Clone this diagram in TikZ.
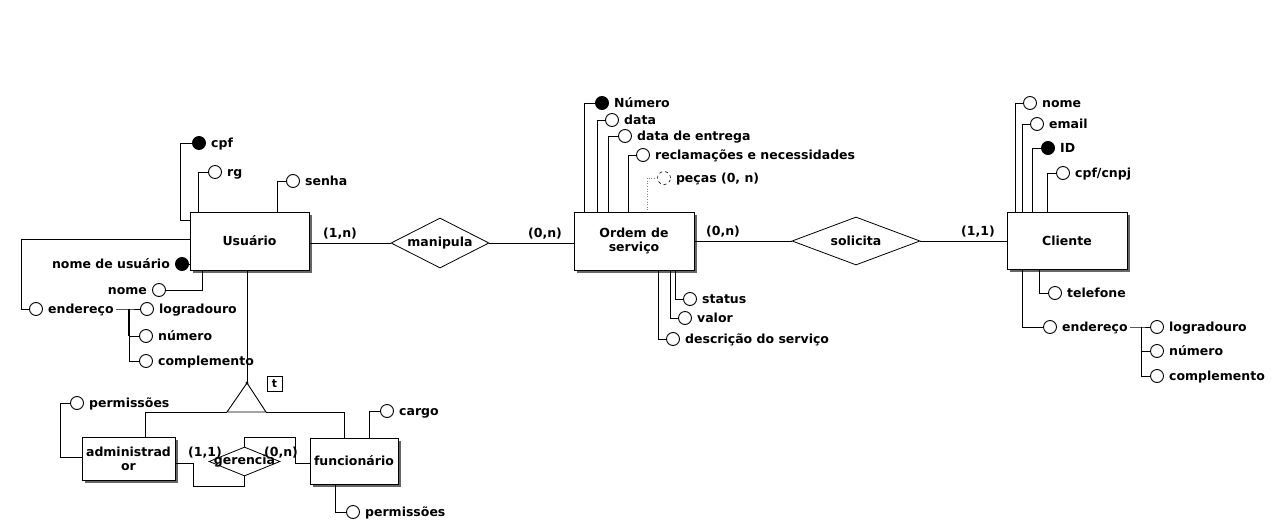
\documentclass[tikz,border=0pt]{standalone}
\usepackage{fontspec}
\setmainfont{DejaVu Sans}
\usetikzlibrary{shapes.geometric,shadows}
\newcommand\attr[6]{\node[#6, label={[lbl,name=#1-t]#5:{#4}}] (#1) at (#2,#3) {};}
\begin{document}
\begin{tikzpicture}[x=1pt,y=-1pt,
  every node/.style={font=\fontsize{12.5}{14}\selectfont\bfseries},
  conn/.style={line width=0.9pt},
  ent/.style={draw, line width=1pt, fill=white, inner sep=0, align=center,
    drop shadow={shadow xshift=2.5pt, shadow yshift=-2.5pt, fill=black!60, opacity=1}},
  rel/.style={draw, diamond, line width=0.8pt, fill=white, inner sep=0},
  att/.style={draw, circle, line width=0.9pt, fill=white, minimum size=13pt, inner sep=0},
  idc/.style={att, fill=black},
  multi/.style={att, dashed, line width=0.6pt},
  lbl/.style={inner sep=0, text height=8.8pt, text depth=0pt},
  label distance=5pt,
  card/.style={inner sep=0},
]
\useasboundingbox (0,0) rectangle (1272,522);

% ---------- entities ----------
\node[ent, minimum width=119pt, minimum height=58pt] (usuario) at (249.5,241) {Usuário};
\node[ent, minimum width=120pt, minimum height=58pt] (ordem) at (634,241) {Ordem de\\serviço};
\node[ent, minimum width=120pt, minimum height=57pt] (cliente) at (1067,240.5) {Cliente};
\node[ent, minimum width=93pt, minimum height=43pt] (admin) at (128.5,458.5) {administrad\\or};
\node[ent, minimum width=88pt, minimum height=46pt] (func) at (354,461) {funcionário};

% ---------- relationships ----------
\node[rel, minimum width=98pt, minimum height=50pt] (manipula) at (440,243) {};
\node at (manipula) {manipula};
\node[rel, minimum width=128pt, minimum height=48pt] (solicita) at (856,241) {};
\node at (solicita) {solicita};

% ---------- relationship connectors ----------
\draw[conn] (usuario.east |- manipula) -- (manipula.west);
\draw[conn] (manipula.east) -- (ordem.west |- manipula);
\draw[conn] (ordem.east |- solicita) -- (solicita.west);
\draw[conn] (solicita.east) -- (cliente.west |- solicita);
\node[card] (c1) at (340,234) {(1,n)};
\node[card] (c2) at (545,234) {(0,n)};
\node[card] (c3) at (723,232) {(0,n)};
\node[card] (c4) at (978,232) {(1,1)};

% ---------- Usuario attributes ----------
\attr{cpf}{199}{143}{cpf}{right}{idc}
\attr{rg}{215}{172}{rg}{right}{att}
\attr{senha}{293}{181}{senha}{right}{att}
\attr{nusu}{182}{264}{nome de usuário}{left}{idc, label distance=0pt}
\attr{nomeu}{159}{290}{nome}{left}{att, label distance=0pt}
\attr{endu}{36}{309}{endereço}{right}{att}
\attr{logu}{147}{309}{logradouro}{right}{att}
\attr{numu}{146}{336}{número}{right}{att}
\attr{compu}{146}{361}{complemento}{right}{att}

\coordinate (u-cpf) at (190,220);
\coordinate (u-rg) at (198,212);
\coordinate (u-senha) at (277,212);
\coordinate (u-nusu) at (190,264);
\coordinate (u-nome) at (202,270);
\coordinate (u-end) at (190,239);
\coordinate (u-bar) at (129,309);

\draw[conn] (cpf.west) -- ++(-12,0) |- (u-cpf);
\draw[conn] (rg.west) -| (u-rg);
\draw[conn] (senha.west) -| (u-senha);
\draw[conn] (nusu.east) -- (u-nusu);
\draw[conn] (nomeu.east) -| (u-nome);
\draw[conn] (endu.west) -- ++(-7.5,0) |- (u-end);
\draw[conn] (endu-t.east) ++(2,0) -- (u-bar) -- (logu.west);
\draw[line width=1.6pt] (u-bar) -- ++(0,27);
\draw[conn] (u-bar) |- (numu.west);
\draw[conn] (u-bar) |- (compu.west);

% ---------- specialization ----------
\coordinate (tri-top) at (247,383);
\coordinate (tri-l) at (227,412);
\coordinate (tri-r) at (266,412);
\draw[conn] (tri-top) -- (tri-l) -- (tri-r) -- cycle;
\fill (tri-top) circle (1.6pt);
\draw[conn] (usuario.south -| tri-top) -- (tri-top);
\node[draw, line width=0.8pt, inner sep=0, minimum width=15pt, minimum height=15pt, font=\fontsize{11}{13}\selectfont\bfseries] (tbox) at (274.5,384) {t};
\coordinate (a-top) at (145,437);
\coordinate (f-top) at (344,438);
\draw[conn] (tri-l) -| (a-top);
\draw[conn] (tri-r) -| (f-top);

\attr{perma}{77}{403}{permissões}{right}{att}
\attr{cargo}{387}{411}{cargo}{right}{att}
\attr{permf}{353}{512}{permissões}{right}{att}
\coordinate (a-perm) at (82,457);
\coordinate (f-cargo) at (369,438);
\coordinate (f-perm) at (335,484);
\draw[conn] (perma.west) -- ++(-9.5,0) |- (a-perm);
\draw[conn] (cargo.west) -| (f-cargo);
\draw[conn] (permf.west) -| (f-perm);

% gerencia
\node[rel, minimum width=71pt, minimum height=29pt] (gerencia) at (244.5,461.5) {};
\coordinate (a-ger) at (175,463);
\coordinate (g1) at (193,486);
\coordinate (f-ger) at (310,463);
\coordinate (g2) at (295,437);
\draw[conn] (a-ger) -| (g1) -| (gerencia.south);
\draw[conn] (f-ger) -| (g2) -| (gerencia.north);
\node at (gerencia) {gerencia};
\node[card] (c5) at (205,453) {(1,1)};
\node[card] (c6) at (281,453) {(0,n)};

% ---------- Ordem de servico attributes ----------
\attr{num}{602}{103}{Número}{right}{idc}
\attr{data}{612}{120}{data}{right}{att}
\attr{dent}{625}{136}{data de entrega}{right}{att}
\attr{recl}{643}{155}{reclamações e necessidades}{right}{att}
\attr{pecas}{664}{178}{peças (0, n)}{right}{multi}
\attr{status}{690}{299}{status}{right}{att}
\attr{valor}{685}{318}{valor}{right}{att}
\attr{desc}{673}{339}{descrição do serviço}{right}{att}
\coordinate (o-num) at (584,212);
\coordinate (o-data) at (597,212);
\coordinate (o-dent) at (608,212);
\coordinate (o-recl) at (628,212);
\coordinate (o-pecas) at (647,212);
\coordinate (o-status) at (675,270);
\coordinate (o-valor) at (670,270);
\coordinate (o-desc) at (658,270);
\draw[conn] (num.west) -| (o-num);
\draw[conn] (data.west) -| (o-data);
\draw[conn] (dent.west) -| (o-dent);
\draw[conn] (recl.west) -| (o-recl);
\draw[line width=0.6pt, gray, dotted] (pecas.west) -| (o-pecas);
\draw[conn] (status.west) -| (o-status);
\draw[conn] (valor.west) -| (o-valor);
\draw[conn] (desc.west) -| (o-desc);

% ---------- Cliente attributes ----------
\attr{nomec}{1030}{103}{nome}{right}{att}
\attr{email}{1037}{124}{email}{right}{att}
\attr{idcl}{1048}{148}{ID}{right}{idc}
\attr{cpfc}{1063}{173}{cpf/cnpj}{right}{att}
\attr{tel}{1055}{293}{telefone}{right}{att}
\attr{endc}{1050}{327}{endereço}{right}{att}
\attr{logc}{1157}{327}{logradouro}{right}{att}
\attr{numc}{1157}{351}{número}{right}{att}
\attr{compc}{1157}{376}{complemento}{right}{att}
\coordinate (k-nome) at (1015,212);
\coordinate (k-email) at (1022,212);
\coordinate (k-id) at (1032,212);
\coordinate (k-cpf) at (1047,212);
\coordinate (k-tel) at (1039,269);
\coordinate (k-end) at (1022,269);
\coordinate (k-bar) at (1141,327);
\draw[conn] (nomec.west) -| (k-nome);
\draw[conn] (email.west) -| (k-email);
\draw[conn] (idcl.west) -| (k-id);
\draw[conn] (cpfc.west) -| (k-cpf);
\draw[conn] (tel.west) -| (k-tel);
\draw[conn] (endc.west) -| (k-end);
\draw[conn] (endc-t.east) ++(2,0) -- (k-bar) -- (logc.west);
\draw[conn] (k-bar) |- (numc.west);
\draw[conn] (k-bar) |- (compc.west);
\end{tikzpicture}
\end{document}
